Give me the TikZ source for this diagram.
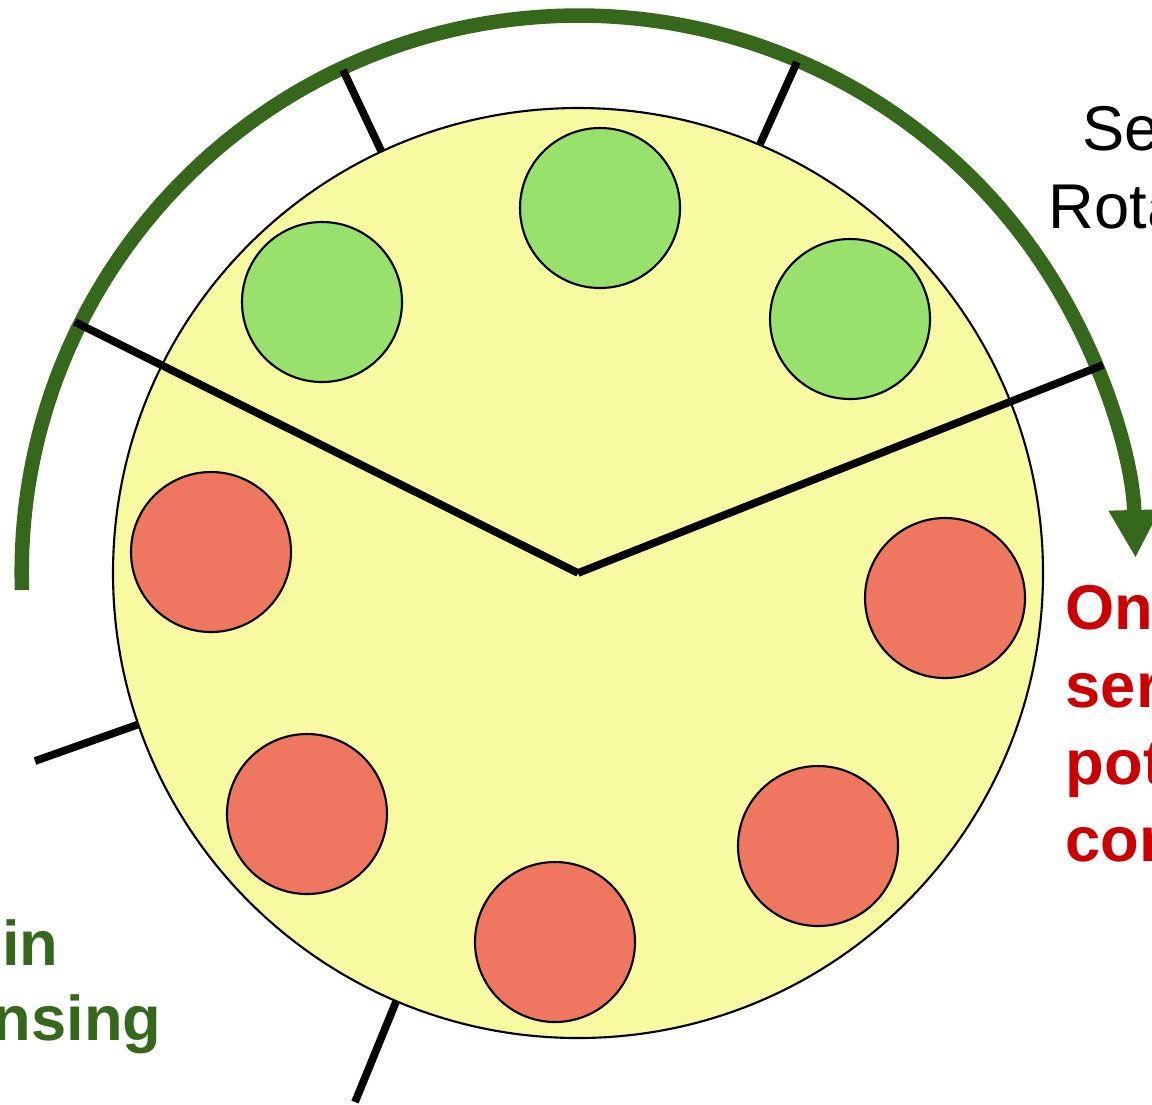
\documentclass[tikz,border=0pt]{standalone}
\usepackage{fontspec}
\setmainfont{Liberation Sans}
\usepackage{tikz}
\usetikzlibrary{arrows.meta}

\definecolor{dishyellow}{RGB}{247,250,160}
\definecolor{wellgreen}{RGB}{152,225,108}
\definecolor{wellred}{RGB}{239,118,95}
\definecolor{darkgreen}{RGB}{53,104,26}
\definecolor{alertred}{RGB}{204,0,0}

\begin{document}
\begin{tikzpicture}[
  x=0.1mm, y=-0.1mm,
  dish/.style={circle, draw=black, line width=0.6pt, fill=dishyellow,
               minimum size=93mm, inner sep=0pt},
  wellg/.style={circle, draw=black, line width=0.6pt, fill=wellgreen,
               minimum size=16mm, inner sep=0pt},
  wellr/.style={wellg, fill=wellred},
  spoke/.style={line width=2.2pt, black},
  rotarr/.style={-{Triangle[length=4.8mm, width=4.8mm]}, line width=1.45mm, darkgreen},
  txt/.style={inner sep=0pt, font=\fontsize{18}{22}\selectfont},
  redtxt/.style={txt, text=alertred, font=\fontsize{18}{22}\selectfont\bfseries, align=left},
  grntxt/.style={txt, text=darkgreen, font=\fontsize{18}{22}\selectfont\bfseries},
]
\useasboundingbox (0,0) rectangle (1152,1104);
\clip (0,0) rectangle (1152,1104);

%% rotation arrow
\coordinate (arcstart) at (22,590);
\draw[rotarr] (arcstart) arc[start angle=178.2, end angle=358.5, radius=557];

%% the dish
\node[dish] (dish) at (578,573) {};

%% wells
\node[wellg] (g1) at (600,208) {};
\node[wellg] (g2) at (322,302) {};
\node[wellg] (g3) at (850,319) {};
\node[wellr] (r1) at (211,552) {};
\node[wellr] (r2) at (945,598) {};
\node[wellr] (r3) at (307,814) {};
\node[wellr] (r4) at (555,942) {};
\node[wellr] (r5) at (818,846) {};

%% sector lines
\coordinate (vl) at (75,322);
\coordinate (vr) at (1103,365);
\draw[spoke] (vl) -- (dish.center);
\draw[spoke] (dish.center) -- (vr);

\coordinate (t1) at (343,70);
\coordinate (t2) at (797,62);
\coordinate (t3) at (35,761);
\coordinate (t4) at (355,1102);
\draw[spoke] (dish.115) -- (t1);
\draw[spoke] (dish.67) -- (t2);
\draw[spoke] (dish.199) -- (t3);
\draw[spoke] (dish.247) -- (t4);

%% labels
\node[txt, anchor=base west] (se) at (1082,150) {Se};
\node[txt, anchor=base west] (rota) at (1048,228) {Rota};
\node[redtxt, anchor=north west] (only) at (1065,585) {On\\ser\\pot\\cor};
\node[grntxt, anchor=base east] (gin) at (59,965) {in};
\node[grntxt, anchor=base east] (gnsing) at (162,1040) {nsing};

\end{tikzpicture}
\end{document}
